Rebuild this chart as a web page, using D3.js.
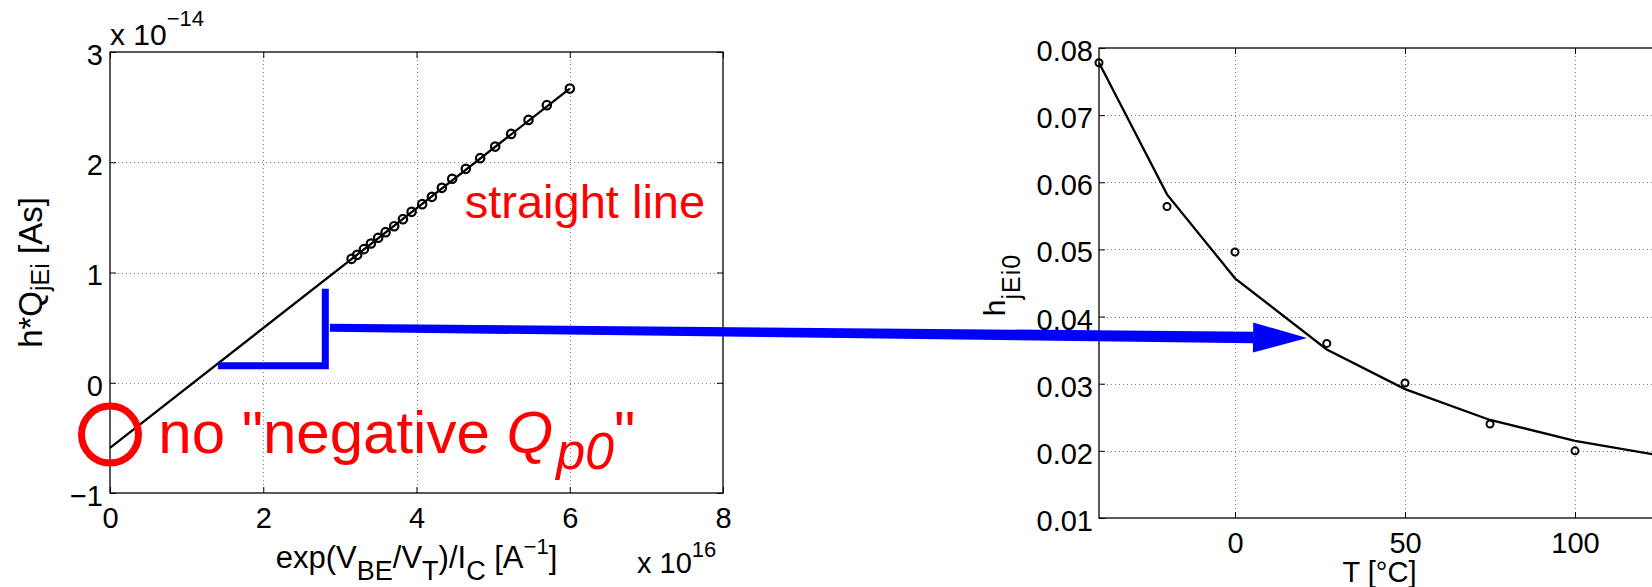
<!DOCTYPE html>
<html>
<head>
<meta charset="utf-8">
<script src="https://cdn.jsdelivr.net/npm/d3@7"></script>
<style>
  body { margin: 0; background: #fff; }
  svg { display: block; }
</style>
</head>
<body>
<svg id="chart" width="1652" height="587"></svg>
<script>
// ---- Left panel: h*Q_jEi versus exp(VBE/VT)/IC (x in 1e16 A^-1, y in 1e-14 As)
const chargeX = [3.153, 3.226, 3.314, 3.405, 3.500, 3.597, 3.709, 3.823, 3.936, 4.074,
                 4.201, 4.331, 4.466, 4.644, 4.831, 5.027, 5.235, 5.462, 5.701, 6.001];
const chargeY = [1.124, 1.160, 1.212, 1.263, 1.315, 1.366, 1.420, 1.484, 1.550, 1.620,
                 1.686, 1.768, 1.850, 1.940, 2.037, 2.142, 2.257, 2.384, 2.518, 2.668];
const fitLineX = [0, 6];
const fitLineY = [-0.59, 2.668];
const leftXTicks = [0, 2, 4, 6, 8];
const leftYTicks = [-1, 0, 1, 2, 3];

// ---- Right panel: h_jEi0 versus temperature
const tempMeas = [-40, -20, 0, 27, 50, 75, 100];
const hMeas = [0.0778, 0.0564, 0.0496, 0.0360, 0.0301, 0.0240, 0.0200];
const tempFit = [-40, -20, 0, 27, 50, 75, 100, 125];
const hFit = [0.0778, 0.0582, 0.0457, 0.0351, 0.0292, 0.0246, 0.0215, 0.0193];
const rightXTicks = [0, 50, 100, 150];
const rightYTicks = [0.01, 0.02, 0.03, 0.04, 0.05, 0.06, 0.07, 0.08];

const FONT = '"Liberation Sans", Arial, Helvetica, sans-serif';
const RED = "#ff0000", BLUE = "#0000ff";

const svg = d3.select("#chart").style("font-family", FONT);

// scales
const xL = d3.scaleLinear().domain([0, 8]).range([110, 723]);
const yL = d3.scaleLinear().domain([-1, 3]).range([493, 52]);
const xR = d3.scaleLinear().domain([-40, 125]).range([1099, 1660]);
const yR = d3.scaleLinear().domain([0.01, 0.08]).range([518, 48]);

function drawFrame(g, x, y, xt, yt, xFmt, yFmt, tick, yPad) {
  const [x0, x1] = x.range(), [y0, y1] = y.range();
  const xd = x.domain(), yd = y.domain();
  const grid = g.append("g").attr("stroke", "#808080").attr("stroke-width", 1)
    .attr("stroke-dasharray", "1,3");
  grid.selectAll(".gx").data(xt.filter(v => v > xd[0] && v < xd[1])).join("line")
    .attr("x1", d => Math.round(x(d)) + 0.5).attr("x2", d => Math.round(x(d)) + 0.5)
    .attr("y1", y1).attr("y2", y0);
  grid.selectAll(".gy").data(yt.filter(v => v > yd[0] && v < yd[1])).join("line")
    .attr("y1", d => Math.round(y(d)) + 0.5).attr("y2", d => Math.round(y(d)) + 0.5)
    .attr("x1", x0).attr("x2", x1);

  const style = sel => {
    sel.select(".domain").remove();
    sel.selectAll(".tick line").attr("stroke", "#000").attr("stroke-width", 1);
    sel.selectAll("text").attr("fill", "#000");
    sel.attr("font-family", FONT).attr("font-size", 29);
  };
  const xtIn = xt.filter(v => v >= xd[0] && v <= xd[1]);
  const ytIn = yt.filter(v => v >= yd[0] && v <= yd[1]);
  g.append("g").attr("transform", `translate(0,${y0})`)
    .call(d3.axisBottom(x).tickValues(xtIn).tickFormat(xFmt).tickSize(-tick).tickPadding(14))
    .call(style);
  g.append("g").attr("transform", `translate(0,${y1})`)
    .call(d3.axisTop(x).tickValues(xtIn).tickFormat("").tickSize(-tick)).call(style);
  const la = g.append("g").attr("transform", `translate(${x0},0)`)
    .call(d3.axisLeft(y).tickValues(ytIn).tickFormat(yFmt).tickSize(-tick).tickPadding(yPad))
    .call(style);
  la.selectAll("text").attr("dy", "0.43em");
  g.append("g").attr("transform", `translate(${x1},0)`)
    .call(d3.axisRight(y).tickValues(ytIn).tickFormat("").tickSize(-tick)).call(style);

  g.append("rect").attr("x", x0).attr("y", y1).attr("width", x1 - x0).attr("height", y0 - y1)
    .attr("fill", "none").attr("stroke", "#000").attr("stroke-width", 1.3);
}

// ---------------- left panel
const gL = svg.append("g");
const leftFmt = d => d3.format("d")(d).replace("-", "\u2212");
drawFrame(gL, xL, yL, leftXTicks, leftYTicks, d3.format("d"), leftFmt, 6, 7);

gL.append("path")
  .datum(d3.zip(fitLineX, fitLineY))
  .attr("d", d3.line().x(d => xL(d[0])).y(d => yL(d[1])))
  .attr("fill", "none").attr("stroke", "#000").attr("stroke-width", 2.3);
gL.selectAll(".mk").data(d3.zip(chargeX, chargeY)).join("circle")
  .attr("cx", d => xL(d[0])).attr("cy", d => yL(d[1])).attr("r", 4.2)
  .attr("fill", "none").attr("stroke", "#000").attr("stroke-width", 2.2);

// axis multipliers and labels
const expTop = gL.append("text").attr("x", 110).attr("y", 45).attr("font-size", 30);
expTop.append("tspan").text("x 10");
expTop.append("tspan").attr("font-size", 22).attr("dy", -19).text("\u221214");

const expBot = gL.append("text").attr("x", 637).attr("y", 573).attr("font-size", 29);
expBot.append("tspan").text("x 10");
expBot.append("tspan").attr("font-size", 22).attr("dy", -16).text("16");

const xlab = gL.append("text").attr("x", (xL.range()[0] + xL.range()[1]) / 2).attr("y", 568)
  .attr("text-anchor", "middle").attr("font-size", 31);
[["exp(V", 0, 31], ["BE", 12, 27], ["/V", -12, 31], ["T", 12, 27], [")/I", -12, 31],
 ["C", 12, 27], [" [A", -12, 31], ["\u22121", -14, 22], ["]", 14, 31]]
  .forEach(([t, dy, fs]) => xlab.append("tspan").attr("dy", dy).attr("font-size", fs).text(t));

const ylab = gL.append("text")
  .attr("transform", `translate(42,${(yL.range()[0] + yL.range()[1]) / 2}) rotate(-90)`)
  .attr("text-anchor", "middle").attr("font-size", 33);
ylab.append("tspan").text("h*Q");
ylab.append("tspan").attr("dy", 7).attr("font-size", 25).text("jEi");
ylab.append("tspan").attr("dy", -7).text(" [As]");

// ---------------- right panel
const gR = svg.append("g");
drawFrame(gR, xR, yR, rightXTicks, rightYTicks, d3.format("d"), d3.format(".2f"), 6, 6);

gR.append("path")
  .datum(d3.zip(tempFit, hFit))
  .attr("d", d3.line().x(d => xR(d[0])).y(d => yR(d[1])))
  .attr("fill", "none").attr("stroke", "#000").attr("stroke-width", 2.3);
gR.selectAll(".mk").data(d3.zip(tempMeas, hMeas)).join("circle")
  .attr("cx", d => xR(d[0])).attr("cy", d => yR(d[1])).attr("r", 3.5)
  .attr("fill", "none").attr("stroke", "#000").attr("stroke-width", 2);

gR.append("text").attr("x", (xR.range()[0] + xR.range()[1]) / 2).attr("y", 582)
  .attr("text-anchor", "middle").attr("font-size", 29).text("T [\u00b0C]");

const ylabR = gR.append("text")
  .attr("transform", `translate(1005,285) rotate(-90)`)
  .attr("text-anchor", "middle").attr("font-size", 30);
ylabR.append("tspan").text("h");
ylabR.append("tspan").attr("dy", 15).attr("font-size", 25).attr("letter-spacing", 1).text("jEi0");

// ---------------- annotations
const ann = svg.append("g");

// red circle at the intercept
ann.append("circle").attr("cx", xL(0)).attr("cy", yL(-0.47)).attr("r", 28.5)
  .attr("fill", "none").attr("stroke", RED).attr("stroke-width", 7);

const noNeg = ann.append("text").attr("x", xL(0.63)).attr("y", yL(-0.635))
  .attr("fill", RED).attr("font-size", 60);
noNeg.append("tspan").text("no \"negative ");
noNeg.append("tspan").attr("font-style", "italic").text("Q");
noNeg.append("tspan").attr("font-style", "italic").attr("font-size", 52).attr("dy", 16).attr("dx", 3).text("p0");
noNeg.append("tspan").attr("dy", -16).text("\"");

ann.append("text").attr("x", xL(4.63)).attr("y", yL(1.496))
  .attr("fill", RED).attr("font-size", 47).text("straight line");

// slope triangle
ann.append("path")
  .attr("d", d3.line()([[xL(1.41), yL(0.154)], [xL(2.81), yL(0.154)], [xL(2.81), yL(0.852)]]))
  .attr("fill", "none").attr("stroke", BLUE).attr("stroke-width", 7)
  .attr("stroke-linejoin", "miter");

// arrow from the slope to the temperature plot
(function () {
  const s = [xL(2.87), yL(0.5)];
  const t = [xR(21.2), yR(0.0368)];
  const dx = t[0] - s[0], dy = t[1] - s[1], len = Math.hypot(dx, dy);
  const u = [dx / len, dy / len], n = [-u[1], u[0]];
  const headLen = 54, headHalf = 15;
  const b = [t[0] - u[0] * headLen, t[1] - u[1] * headLen];
  const p = (q, k) => [q[0] + n[0] * k, q[1] + n[1] * k];
  ann.append("path")
    .attr("d", d3.line()([p(s, -4), p(b, -5.8), p(b, 5.8), p(s, 4)]) + "Z")
    .attr("fill", BLUE);
  ann.append("path")
    .attr("d", d3.line()([p(b, -headHalf), t, p(b, headHalf)]) + "Z")
    .attr("fill", BLUE);
})();
</script>
</body>
</html>
